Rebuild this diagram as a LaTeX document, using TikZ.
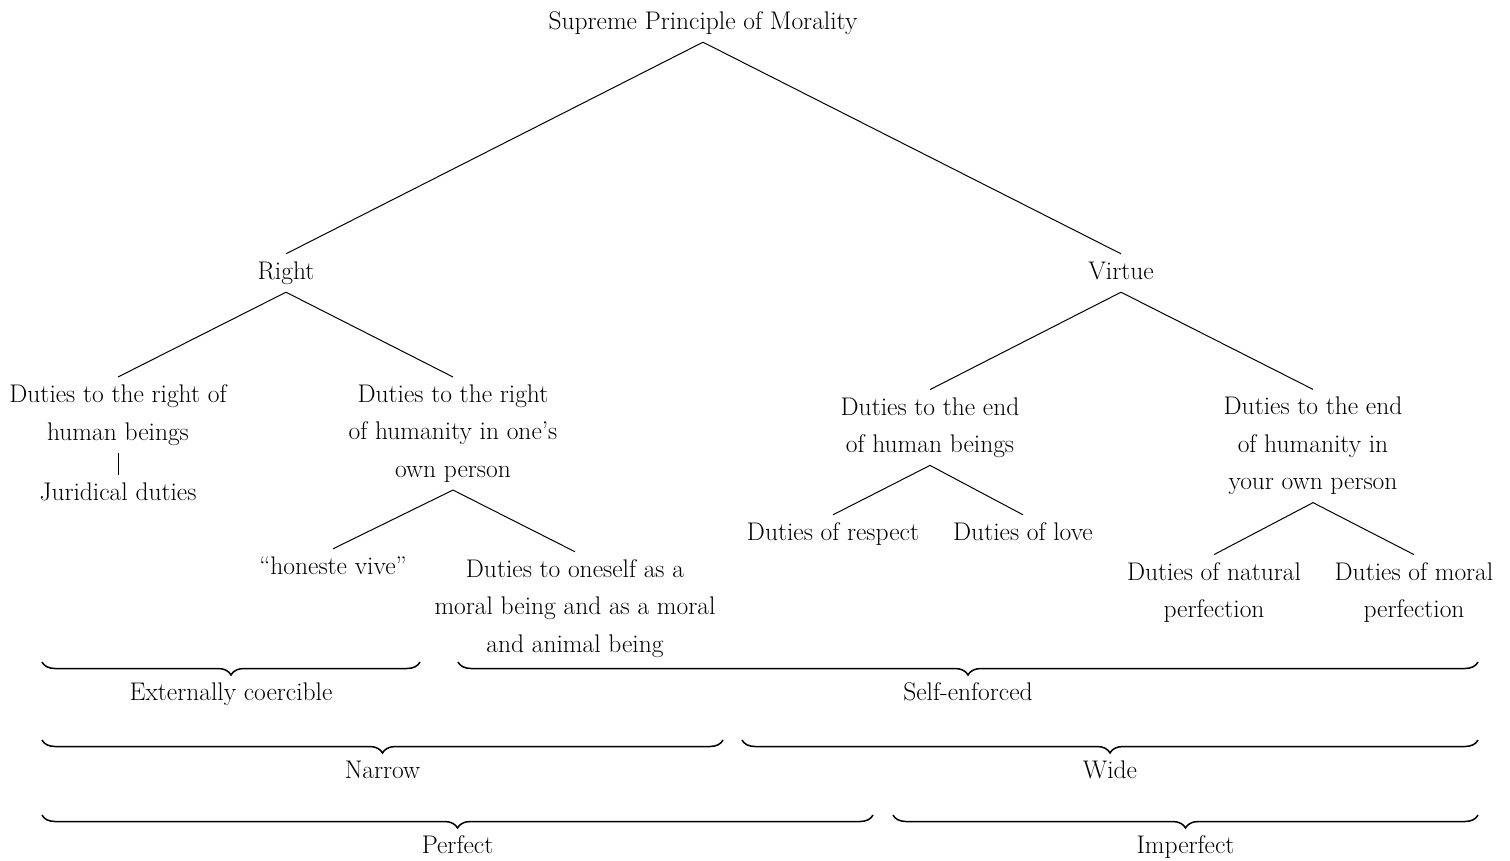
\documentclass[tikz,border=0pt]{standalone}
\usepackage{tikz}
\usetikzlibrary{decorations.pathreplacing}

\begin{document}
\begin{tikzpicture}[
  x=1pt, y=-1pt,
  font=\fontsize{25.5}{37.5}\selectfont,
  duty/.style={align=center, inner sep=7.5pt},
  leaf/.style={duty, text height=18pt, text depth=5pt},
  branch/.style={line width=1pt},
  grp/.style={decorate, decoration={brace, mirror, amplitude=13pt}, line width=1.5pt},
  lab/.style={midway, below=20pt, inner sep=0pt}
]
\useasboundingbox (0,0) rectangle (1510,860);

% ---------- Principle and its two parts ----------
\node[leaf] (morality) at (703,23) {Supreme Principle of Morality};
\node[leaf] (right)    at (286,273) {Right};
\node[leaf] (virtue)   at (1121,273) {Virtue};
\draw[branch] (morality.south) -- (right.north);
\draw[branch] (morality.south) -- (virtue.north);

% ---------- Right ----------
\node[duty] (rhb)  at (118,415) {Duties to the right of\\ human beings};
\node[leaf] (jur)  at (118,494) {Juridical duties};
\node[duty] (rhum) at (453,433.5) {Duties to the right\\ of humanity in one's\\ own person};
\node[leaf] (hon)  at (333,568) {``honeste vive''};
\node[duty] (self) at (575,608.5) {Duties to oneself as a\\ moral being and as a moral\\ and animal being};
\draw[branch] (right.south) -- (rhb.north);
\draw[branch] (right.south) -- (rhum.north);
\draw[branch] (rhb.south) -- (jur.north);
\draw[branch] (rhum.south) -- (hon.north);
\draw[branch] (rhum.south) -- (self.north);

% ---------- Virtue ----------
\node[duty] (ehb)  at (930,427.5) {Duties to the end\\ of human beings};
\node[leaf] (resp) at (833,534) {Duties of respect};
\node[leaf] (love) at (1023,534) {Duties of love};
\node[duty] (ehum) at (1313,446) {Duties to the end\\ of humanity in\\ your own person};
\node[duty] (nat)  at (1214,592.5) {Duties of natural\\ perfection};
\node[duty] (mor)  at (1414,592.5) {Duties of moral\\ perfection};
\draw[branch] (virtue.south) -- (ehb.north);
\draw[branch] (virtue.south) -- (ehum.north);
\draw[branch] (ehb.south) -- (resp.north);
\draw[branch] (ehb.south) -- (love.north);
\draw[branch] (ehum.south) -- (nat.north);
\draw[branch] (ehum.south) -- (mor.north);

% ---------- Groupings ----------
\coordinate (a1) at (42,662);  \coordinate (b1) at (420,662);
\coordinate (c1) at (458,662); \coordinate (d1) at (1478,662);
\coordinate (a2) at (42,740);  \coordinate (b2) at (723,740);
\coordinate (c2) at (742,740); \coordinate (d2) at (1478,740);
\coordinate (a3) at (42,815);  \coordinate (b3) at (873,815);
\coordinate (c3) at (893,815); \coordinate (d3) at (1478,815);
\draw[grp] (a1) -- node[lab]{Externally coercible} (b1);
\draw[grp] (c1) -- node[lab]{Self-enforced} (d1);
\draw[grp] (a2) -- node[lab]{Narrow} (b2);
\draw[grp] (c2) -- node[lab]{Wide} (d2);
\draw[grp] (a3) -- node[lab]{Perfect} (b3);
\draw[grp] (c3) -- node[lab]{Imperfect} (d3);
\end{tikzpicture}
\end{document}
